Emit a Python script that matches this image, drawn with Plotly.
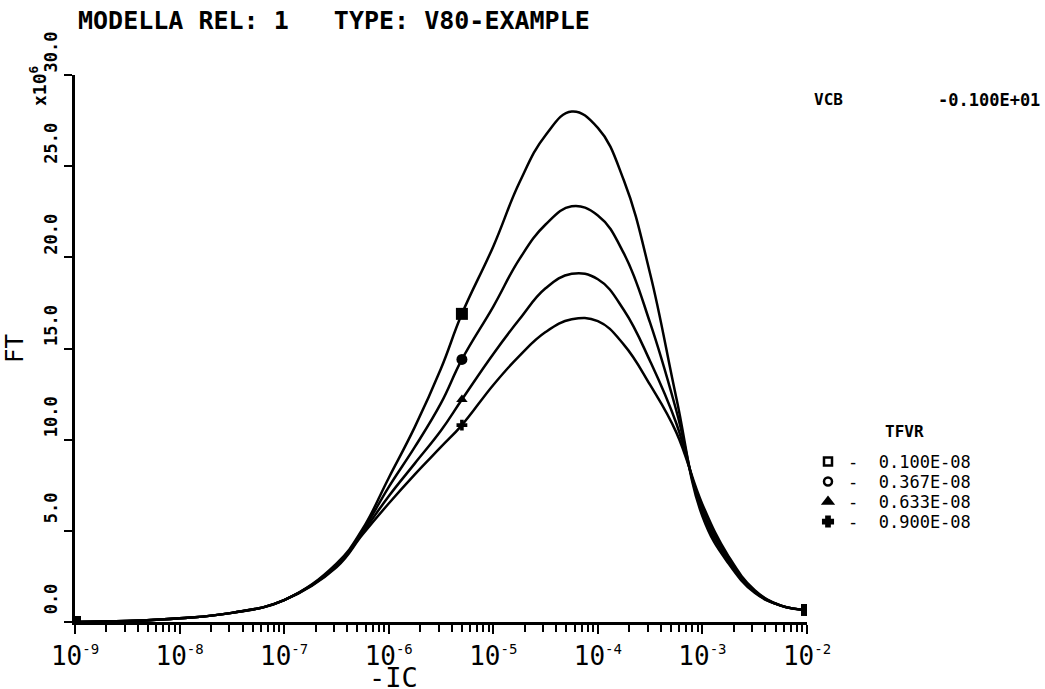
import plotly.graph_objects as go

# ---- data ----
IC_EXP = [-9, -8.5, -8, -7.5, -7, -6.5, -6.25, -6, -5.75, -5.5, -5.3, -5, -4.75,
          -4.5, -4.25, -4, -3.75, -3.5, -3.25, -3, -2.75, -2.5, -2.25, -2]
IC = [10 ** e for e in IC_EXP]

FT_1 = [0, 0.05, 0.2, 0.5, 1.2, 3.2, 5.1, 7.9, 10.7, 13.9, 16.9, 20.6, 24.1,
        26.7, 28.0, 27.1, 24.2, 19.1, 12.3, 5.8, 3.2, 1.6, 0.9, 0.66]
FT_2 = [0, 0.05, 0.2, 0.5, 1.2, 3.1, 5.0, 7.4, 9.6, 12.0, 14.4, 17.3, 19.9,
        21.8, 22.8, 22.3, 20.2, 16.4, 11.6, 6.0, 3.35, 1.65, 0.9, 0.66]
FT_3 = [0, 0.05, 0.2, 0.5, 1.2, 3.05, 4.9, 6.9, 8.7, 10.5, 12.2, 14.7, 16.6,
        18.3, 19.1, 18.8, 17.1, 14.3, 10.9, 6.2, 3.5, 1.7, 0.9, 0.66]
FT_4 = [0, 0.05, 0.2, 0.5, 1.2, 3.0, 4.8, 6.5, 8.1, 9.6, 10.8, 13.0, 14.6,
        15.9, 16.6, 16.5, 15.2, 13.0, 10.4, 6.45, 3.6, 1.75, 0.9, 0.66]
SERIES = [FT_1, FT_2, FT_3, FT_4]
TFVR_LABELS = ["0.100E-08", "0.367E-08", "0.633E-08", "0.900E-08"]
MARK_IDX = [0, 10, 23]          # points that carry a plotter symbol
CURVE_SYMBOLS = ["square", "circle", "triangle-up", "cross"]
CURVE_SIZES = [12, 11, 10, 9]
LEGEND_SYMBOLS = ["square-open", "circle-open", "triangle-up", "cross"]

X_TICK_EXP = [-9, -8, -7, -6, -5, -4, -3, -2]
X_TICK_TEXT = ["10<sup><span style='font-size:14px'>%d</span></sup>" % e for e in X_TICK_EXP]
Y_TICKS = [0, 5, 10, 15, 20, 25, 30]
NB = "\u00a0"
Y_TICK_TEXT = [NB * 4 + "%.1f" % v for v in Y_TICKS]

FONT = "DejaVu Sans Mono"
INK = "black"

# pixel geometry of the plotting area
L, R, T, B = 75, 807, 75, 622
W_PX, H_PX = R - L, B - T


def px(xp):
    return (xp - L) / W_PX


def py(yp):
    return (B - yp) / H_PX


fig = go.Figure()

for ys in SERIES:
    fig.add_trace(go.Scatter(x=IC, y=ys, mode="lines",
                             line=dict(color=INK, width=2.5, shape="spline", smoothing=1.2),
                             showlegend=False, hoverinfo="skip"))

for ys, sym, sz in zip(SERIES, CURVE_SYMBOLS, CURVE_SIZES):
    fig.add_trace(go.Scatter(x=[IC[i] for i in MARK_IDX], y=[ys[i] for i in MARK_IDX],
                             mode="markers",
                             marker=dict(symbol=sym, size=sz, color=INK,
                                         line=dict(width=0)),
                             showlegend=False, hoverinfo="skip"))

LEG_ROWS = [462, 482, 502, 522]
legend_layouts = {}
for k, (lab, sym, row) in enumerate(zip(TFVR_LABELS, LEGEND_SYMBOLS, LEG_ROWS)):
    name = "legend" if k == 0 else "legend%d" % (k + 1)
    fig.add_trace(go.Scatter(x=[None], y=[None], mode="markers",
                             marker=dict(symbol=sym, size=8, color=INK,
                                         line=dict(width=2.5, color=INK)),
                             name="-  " + lab, showlegend=True, legend=name))
    legend_layouts[name] = dict(x=px(808), xanchor="left", y=py(row), yanchor="middle",
                                font=dict(size=17, family=FONT, color=INK),
                                itemwidth=30, bgcolor="rgba(0,0,0,0)",
                                borderwidth=0)

minor_vals = [k * 10 ** e for e in range(-9, -2) for k in range(2, 10)]

fig.update_layout(
    width=1045, height=689,
    margin=dict(l=L, r=1045 - R, t=T, b=689 - B),
    paper_bgcolor="white", plot_bgcolor="white",
    font=dict(family=FONT, color=INK),
    title=dict(text="<b>MODELLA REL: 1   TYPE: V80-EXAMPLE</b>",
               x=78 / 1045, xanchor="left", xref="container",
               y=1 - 20 / 689, yanchor="middle", yref="container",
               font=dict(size=25, family=FONT, color=INK)),
    xaxis=dict(type="log", range=[-9, -2], showgrid=False, zeroline=False,
               showline=True, linecolor=INK, linewidth=2.5,
               ticks="outside", ticklen=9, tickwidth=2, tickcolor=INK,
               tickvals=[10 ** e for e in X_TICK_EXP], ticktext=X_TICK_TEXT,
               tickfont=dict(size=26, family=FONT, color=INK),
               minor=dict(tickvals=minor_vals, ticks="outside", ticklen=7,
                          tickwidth=2, tickcolor=INK, showgrid=False)),
    yaxis=dict(range=[0, 30], showgrid=False, zeroline=False,
               showline=True, linecolor=INK, linewidth=2.5,
               ticks="outside", ticklen=8, tickwidth=2, tickcolor=INK,
               tickvals=Y_TICKS, ticktext=Y_TICK_TEXT, tickangle=-90,
               tickfont=dict(size=17, family=FONT, color=INK, weight="bold"),
               title=dict(text="FT", font=dict(size=24, family=FONT, color=INK),
                          standoff=12)),
    annotations=[
        dict(text="x10<sup>6</sup>", textangle=-90, xref="paper", yref="paper",
             x=px(24), y=py(64), showarrow=False,
             font=dict(size=18, family=FONT, color=INK, weight="bold")),
        dict(text="VCB", xref="paper", yref="paper",
             x=px(845), y=py(88), showarrow=False,
             font=dict(size=16, family=FONT, color=INK, weight="bold")),
        dict(text="-0.100E+01", xref="paper", yref="paper", xanchor="right",
             x=px(1042), y=py(88), showarrow=False,
             font=dict(size=17, family=FONT, color=INK, weight="bold")),
        dict(text="TFVR", xref="paper", yref="paper", xanchor="left",
             x=px(883), y=py(443), showarrow=False,
             font=dict(size=16, family=FONT, color=INK, weight="bold")),
        dict(text="-IC", xref="paper", yref="paper", yanchor="top",
             x=px(393), y=py(660), showarrow=False,
             font=dict(size=27, family=FONT, color=INK)),
    ],
)
fig.update_layout(**legend_layouts)

fig.write_html("out.html")
